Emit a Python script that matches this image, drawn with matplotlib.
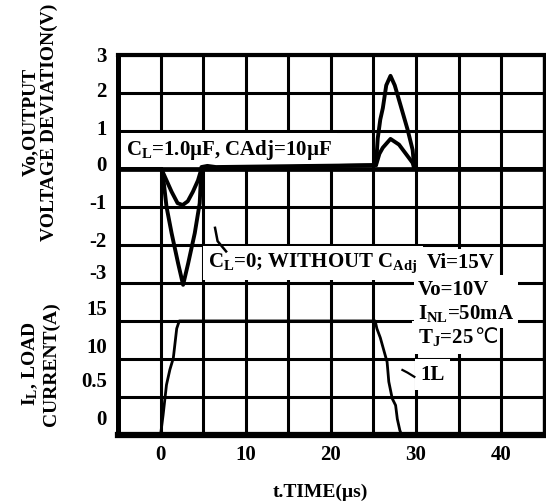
import numpy as np
import matplotlib
matplotlib.use("Agg")
import matplotlib.pyplot as plt

plt.rcParams['font.family'] = ['Liberation Serif', 'DejaVu Sans']
plt.rcParams['font.weight'] = 'bold'
plt.rcParams['mathtext.fontset'] = 'custom'
plt.rcParams['mathtext.rm'] = 'Liberation Serif:bold'
plt.rcParams['mathtext.it'] = 'Liberation Serif:bold'
plt.rcParams['mathtext.bf'] = 'Liberation Serif:bold'

# time axis (us)
time_ticks = [0, 10, 20, 30, 40]
time_labels = ["0", "10", "20", "30", "40"]

# left axis labels, in grid divisions (0 = bottom, 10 = top)
ytick_pos = [10.0, 9.1, 8.1, 7.15, 6.15, 5.15, 4.3, 3.35, 2.35, 1.45, 0.45]
ytick_labels = ["3", "2", "1", "0", "-1", "-2", "-3", "15", "10", "0.5", "0"]

V_ZERO = 7      # division where 0 V sits
A_PER_DIV = 5   # load current scale

# output voltage deviation, C_L=0 without C_Adj (V)
t_v_noadj = [-5, 0.1, 0.3, 0.7, 1.3, 2.07, 2.65, 3.24, 4.02, 4.6, 4.8, 5.5, 6.5,
             25.3, 25.5, 25.8, 26.1, 26.5, 27.0, 27.5, 28.2, 29.0, 29.6, 29.8, 45]
v_noadj = [0, 0, -0.2, -0.99, -1.69, -2.49, -3.05, -2.49, -1.69, -0.9, 0.05, 0.08, 0.05,
           0.1, 0.8, 1.3, 1.6, 2.2, 2.45, 2.2, 1.66, 1.04, 0.5, 0, 0]

# output voltage deviation, C_L=1.0uF, CAdj=10uF (V)
t_v_adj = [-5, 0.1, 0.3, 0.8, 1.3, 2.0, 2.6, 3.2, 3.8, 4.4, 4.8,
           25.3, 25.7, 26.1, 27.0, 28.0, 29.0, 29.6, 29.8, 45]
v_adj = [0, 0, -0.1, -0.35, -0.6, -0.9, -0.95, -0.85, -0.6, -0.3, 0,
         0.1, 0.4, 0.56, 0.79, 0.64, 0.34, 0.16, 0, 0]

# load current (A)
t_il = [-5, 0.0, 0.1, 0.3, 0.7, 1.1, 1.5, 1.9, 2.2, 25.2, 25.4, 25.8, 26.2,
        26.6, 26.8, 27.2, 27.6, 27.8, 28.1, 28.3, 45]
il = [0, 0, 0.85, 2.6, 6.6, 8.6, 10.1, 14.0, 15, 15, 14.0, 12.8, 11.2,
      9.6, 7.0, 4.8, 3.9, 2.1, 0.6, 0, 0]

# leader lines to the labels
t_lead_v = [6.4, 6.7, 7.7]
v_lead = [-1.55, -1.9, -2.17]
t_lead_i = [28.4, 29.0, 29.8]
i_lead = [8.55, 8.2, 7.65]

fig = plt.figure(figsize=(5.46, 5.04), dpi=100)
ax = fig.add_axes([0.216, 0.137, 0.780, 0.754])
ax.set_xlim(-5, 45)
ax.set_ylim(0, 10)

for x in np.arange(-5, 46, 5):
    ax.axvline(x, color='black', lw=2.2, zorder=1)
for y in range(11):
    ax.axhline(y, color='black', lw=3.4 if y == V_ZERO else 2.2, zorder=1)

for side, w in [('left', 3.6), ('bottom', 4.5), ('top', 3.0), ('right', 2.4)]:
    ax.spines[side].set_linewidth(w)

ax.set_xticks(time_ticks, time_labels)
ax.set_yticks(ytick_pos, ytick_labels)
ax.tick_params(length=0, labelsize=15)
ax.tick_params(axis='x', pad=7)
ax.tick_params(axis='y', pad=8)

ax.plot(t_v_noadj, np.array(v_noadj) + V_ZERO, color='black', lw=2.8, zorder=4)
ax.plot(t_v_adj, np.array(v_adj) + V_ZERO, color='black', lw=2.8, zorder=4)
ax.plot(t_il, np.array(il) / A_PER_DIV, color='black', lw=2.0, zorder=4)
ax.plot(t_lead_v, np.array(v_lead) + V_ZERO, color='black', lw=1.8, zorder=4)
ax.plot(t_lead_i, np.array(i_lead) / A_PER_DIV, color='black', lw=1.6, zorder=4)

box = dict(boxstyle='square,pad=0.25', fc='white', ec='none')
ax.text(-4.06, 7.5, r"C$_\mathrm{L}$=1.0µF, CAdj=10µF", fontsize=15,
        ha='left', va='center', bbox=box, zorder=3)
ax.text(5.6, 4.52, r"C$_\mathrm{L}$=0; WITHOUT C$_\mathrm{Adj}$", fontsize=15,
        ha='left', va='center', bbox=box, zorder=3)
ax.text(31.2, 4.52, "Vi=15V", fontsize=15, ha='left', va='center',
        bbox=dict(boxstyle='square,pad=0.2', fc='white', ec='none'), zorder=2.9)

# test conditions; the last row is separate so the celsius sign can come
# from a font that has it
ax.text(30.2, 4.09, "Vo=10V\nI$_\\mathrm{NL}$=50mA", fontsize=15,
        ha='left', va='top', linespacing=1.2,
        bbox=dict(boxstyle='square,pad=0.2', fc='white', ec='none'), zorder=2.8)
tj = ax.text(30.2, 2.42, "T$_\\mathrm{J}$=25", fontsize=15,
             ha='left', va='baseline', zorder=2.7,
             bbox=dict(boxstyle='square,pad=0.3', fc='white', ec='none'))
ax.annotate("℃", xy=(1, 2.42), xycoords=(tj, 'data'),
            xytext=(0.5, 0), textcoords='offset points',
            fontsize=15, family='DejaVu Sans', weight='normal',
            ha='left', va='baseline', zorder=3.6)

ax.text(30.5, 1.59, "1L", fontsize=15, ha='left', va='center', bbox=box, zorder=3)

fig.text(40 / 546, 1 - 122 / 504, "Vo,OUTPUT\nVOLTAGE DEVIATION(V)", rotation=90,
         ha='center', va='center', multialignment='center', fontsize=14)
fig.text(40 / 546, 1 - 364 / 504, "I$_\\mathrm{L}$, LOAD\nCURRENT(A)", rotation=90,
         ha='center', va='center', multialignment='center', fontsize=14)
fig.text(320 / 546, 1 - 492 / 504, "t.TIME(µs)", ha='center', va='center', fontsize=14)

fig.savefig("out.png", dpi=100)
